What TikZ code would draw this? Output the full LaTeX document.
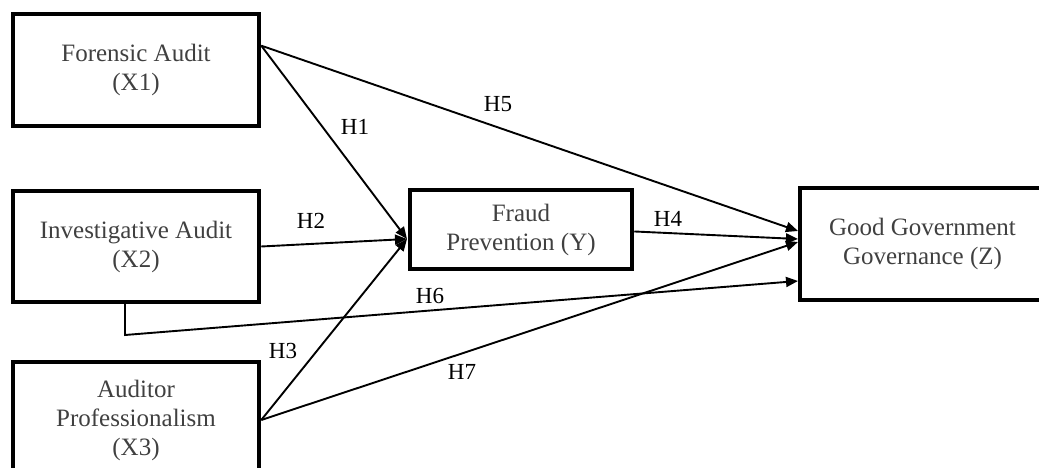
\documentclass[tikz,border=0pt]{standalone}
\usepackage{fontspec}
\setmainfont{Liberation Serif}
\usepackage{tikz}
\usetikzlibrary{arrows.meta}

\begin{document}
\begin{tikzpicture}[x=1pt,y=-1pt,
  box/.style={draw,line width=4.5pt,minimum width=246pt,minimum height=112pt,
    inner sep=0pt,align=center,text=black!75,font=\fontsize{25}{29}\selectfont},
  link/.style={line width=1.9pt,-{Triangle[length=12pt,width=10pt]}},
  hyp/.style={font=\fontsize{23}{27}\selectfont}]
\useasboundingbox (0,0) rectangle (1039,468);
  \node[box] (X1) at (136,70) {Forensic Audit\\(X1)};
  \node[box,minimum height=111pt] (X2) at (136,246.5) {Investigative Audit\\(X2)};
  \node[box,minimum height=116pt] (X3) at (136,420) {Auditor\\Professionalism\\(X3)};
  \node[box,minimum width=222pt,minimum height=79pt] (Y) at (521,229.5) {Fraud\\Prevention (Y)};
  \node[box,minimum width=245pt] (Z) at (922.5,244) {Good Government\\Governance (Z)};
  % meeting points
  \coordinate (yin) at (407,239);
  \coordinate (z5) at (798,231);
  \coordinate (z4) at (798,239);
  \coordinate (z7) at (798,242);
  \coordinate (z6) at (798,281);
  \coordinate (x2b) at (125,302);
  \coordinate (h6) at (125,335);
  \draw[link] (X1.11) -- (yin);
  \draw[link] (X2.east) -- (yin);
  \draw[link] (X3.east) -- (yin);
  \draw[link] (Y.-1.3) -- (z4);
  \draw[link] (X1.11) -- (z5);
  \draw[link] (x2b) -- (h6) -- (z6);
  \draw[link] (X3.east) -- (z7);
  % hypotheses
  \node[hyp] (H1) at (355,127) {H1};
  \node[hyp] (H2) at (311,221) {H2};
  \node[hyp] (H3) at (283,351) {H3};
  \node[hyp] (H4) at (668,219) {H4};
  \node[hyp] (H5) at (498,104) {H5};
  \node[hyp] (H6) at (430,296) {H6};
  \node[hyp] (H7) at (462,372) {H7};
\end{tikzpicture}
\end{document}
